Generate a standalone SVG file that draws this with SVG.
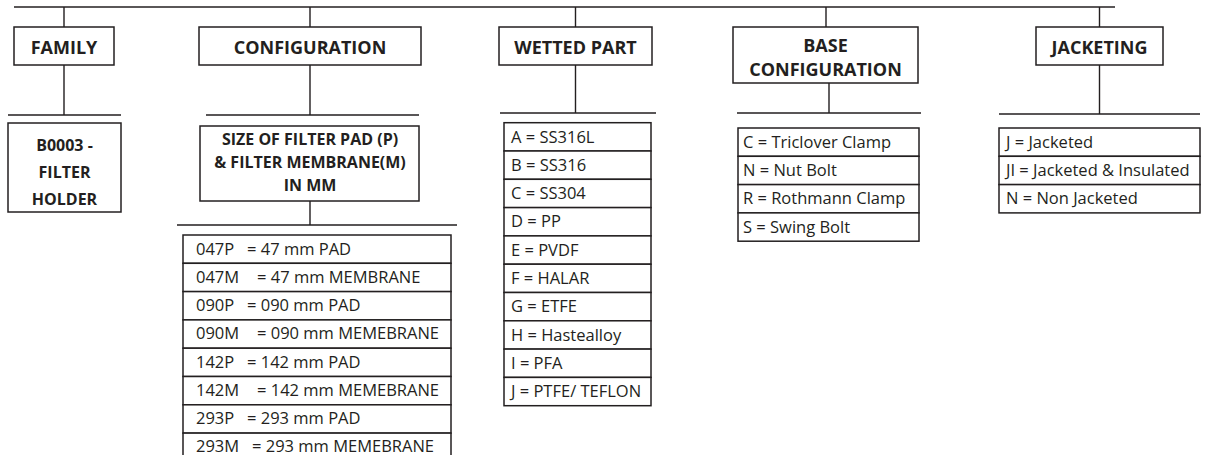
<svg xmlns="http://www.w3.org/2000/svg" width="1210" height="455" viewBox="0 0 1210 455">
<style>
.bx{fill:#fff;stroke:#231f20;stroke-width:1.5}
.ln{stroke:#231f20;stroke-width:1.4;fill:none}
.h{font-family:"Open Sans","Liberation Sans",sans-serif;font-weight:bold;font-size:18px;fill:#231f20;text-anchor:middle}
.s{font-family:"Open Sans","Liberation Sans",sans-serif;font-weight:bold;font-size:16px;fill:#231f20;text-anchor:middle}
.t{font-family:"Open Sans","Liberation Sans",sans-serif;font-size:16.5px;fill:#231f20}
</style>
<rect width="1210" height="455" fill="#fff"/>
<g id="connectors">
<path class="ln" d="M14,7H1115"/>
<path class="ln" d="M64,7V27M310,7V27M575.5,7V27M826,7V27M1099.5,7V27"/>
<path class="ln" d="M64,65V115M8,115H121"/>
<path class="ln" d="M310,65V115M206,115H419"/>
<path class="ln" d="M310,201V225M177,225H457"/>
<path class="ln" d="M575.5,65V113M500,113H656"/>
<path class="ln" d="M829,83V113M737,113H921"/>
<path class="ln" d="M1099.5,65V114M999,114H1200"/>
</g>
<g id="family">
<rect class="bx" x="14" y="27" width="100" height="38"/>
<text class="h" x="64" y="54">FAMILY</text>
</g>
<g id="family-value">
<rect class="bx" x="8" y="123" width="113" height="89"/>
<text class="s" x="64.5" y="151">B0003 -</text>
<text class="s" x="64.5" y="178">FILTER</text>
<text class="s" x="64.5" y="205">HOLDER</text>
</g>
<g id="configuration">
<rect class="bx" x="199" y="27" width="222" height="38"/>
<text class="h" x="310" y="54">CONFIGURATION</text>
</g>
<g id="size">
<rect class="bx" x="200" y="126" width="219" height="75"/>
<text class="s" x="310" y="145">SIZE OF FILTER PAD (P)</text>
<text class="s" x="310" y="168">&amp; FILTER MEMBRANE(M)</text>
<text class="s" x="310" y="191">IN MM</text>
</g>
<g id="size-list">
<rect class="bx" x="183" y="235" width="268" height="28.3"/>
<rect class="bx" x="183" y="263.3" width="268" height="28.3"/>
<rect class="bx" x="183" y="291.6" width="268" height="28.3"/>
<rect class="bx" x="183" y="319.9" width="268" height="28.3"/>
<rect class="bx" x="183" y="348.2" width="268" height="28.3"/>
<rect class="bx" x="183" y="376.5" width="268" height="28.3"/>
<rect class="bx" x="183" y="404.8" width="268" height="28.3"/>
<rect class="bx" x="183" y="433.1" width="268" height="28.3"/>
<text class="t" y="254.5"><tspan x="196">047P</tspan><tspan x="247">= 47 mm PAD</tspan></text>
<text class="t" y="282.8"><tspan x="196">047M</tspan><tspan x="257">= 47 mm MEMBRANE</tspan></text>
<text class="t" y="311.1"><tspan x="196">090P</tspan><tspan x="247">= 090 mm PAD</tspan></text>
<text class="t" y="339.4"><tspan x="196">090M</tspan><tspan x="257">= 090 mm MEMEBRANE</tspan></text>
<text class="t" y="367.7"><tspan x="196">142P</tspan><tspan x="247">= 142 mm PAD</tspan></text>
<text class="t" y="396"><tspan x="196">142M</tspan><tspan x="257">= 142 mm MEMEBRANE</tspan></text>
<text class="t" y="424.3"><tspan x="196">293P</tspan><tspan x="247">= 293 mm PAD</tspan></text>
<text class="t" y="451.8"><tspan x="196">293M</tspan><tspan x="252">= 293 mm MEMEBRANE</tspan></text>
</g>
<g id="wetted-part">
<rect class="bx" x="499" y="27" width="153" height="38"/>
<text class="h" x="575.5" y="54">WETTED PART</text>
</g>
<g id="wetted-list">
<rect class="bx" x="504" y="122.7" width="147" height="28.3"/>
<rect class="bx" x="504" y="151" width="147" height="28.3"/>
<rect class="bx" x="504" y="179.3" width="147" height="28.3"/>
<rect class="bx" x="504" y="207.6" width="147" height="28.3"/>
<rect class="bx" x="504" y="235.9" width="147" height="28.3"/>
<rect class="bx" x="504" y="264.2" width="147" height="28.3"/>
<rect class="bx" x="504" y="292.5" width="147" height="28.3"/>
<rect class="bx" x="504" y="320.8" width="147" height="28.3"/>
<rect class="bx" x="504" y="349.1" width="147" height="28.3"/>
<rect class="bx" x="504" y="377.4" width="147" height="28.3"/>
<text class="t" x="511" y="142.5">A = SS316L</text>
<text class="t" x="511" y="170.8">B = SS316</text>
<text class="t" x="511" y="199.1">C = SS304</text>
<text class="t" x="511" y="227.4">D = PP</text>
<text class="t" x="511" y="255.7">E = PVDF</text>
<text class="t" x="511" y="284">F = HALAR</text>
<text class="t" x="511" y="312.3">G = ETFE</text>
<text class="t" x="511" y="340.6">H = Hastealloy</text>
<text class="t" x="511" y="368.9">I = PFA</text>
<text class="t" x="511" y="397.2">J = PTFE/ TEFLON</text>
</g>
<g id="base-configuration">
<rect class="bx" x="733" y="27" width="185" height="56"/>
<text class="h" x="825.5" y="52">BASE</text>
<text class="h" x="825.5" y="76">CONFIGURATION</text>
</g>
<g id="base-list">
<rect class="bx" x="738" y="128" width="181" height="28.3"/>
<rect class="bx" x="738" y="156.3" width="181" height="28.3"/>
<rect class="bx" x="738" y="184.6" width="181" height="28.3"/>
<rect class="bx" x="738" y="212.9" width="181" height="28.3"/>
<text class="t" x="743" y="147.8">C = Triclover Clamp</text>
<text class="t" x="743" y="176.1">N = Nut Bolt</text>
<text class="t" x="743" y="204.4">R = Rothmann Clamp</text>
<text class="t" x="743" y="232.7">S = Swing Bolt</text>
</g>
<g id="jacketing">
<rect class="bx" x="1036" y="27" width="127" height="38"/>
<text class="h" x="1099.5" y="54">JACKETING</text>
</g>
<g id="jacketing-list">
<rect class="bx" x="999" y="128" width="201" height="28.3"/>
<rect class="bx" x="999" y="156.3" width="201" height="28.3"/>
<rect class="bx" x="999" y="184.6" width="201" height="28.3"/>
<text class="t" x="1006" y="147.8">J = Jacketed</text>
<text class="t" x="1006" y="176.1">JI = Jacketed &amp; Insulated</text>
<text class="t" x="1006" y="204.4">N = Non Jacketed</text>
</g>
</svg>
